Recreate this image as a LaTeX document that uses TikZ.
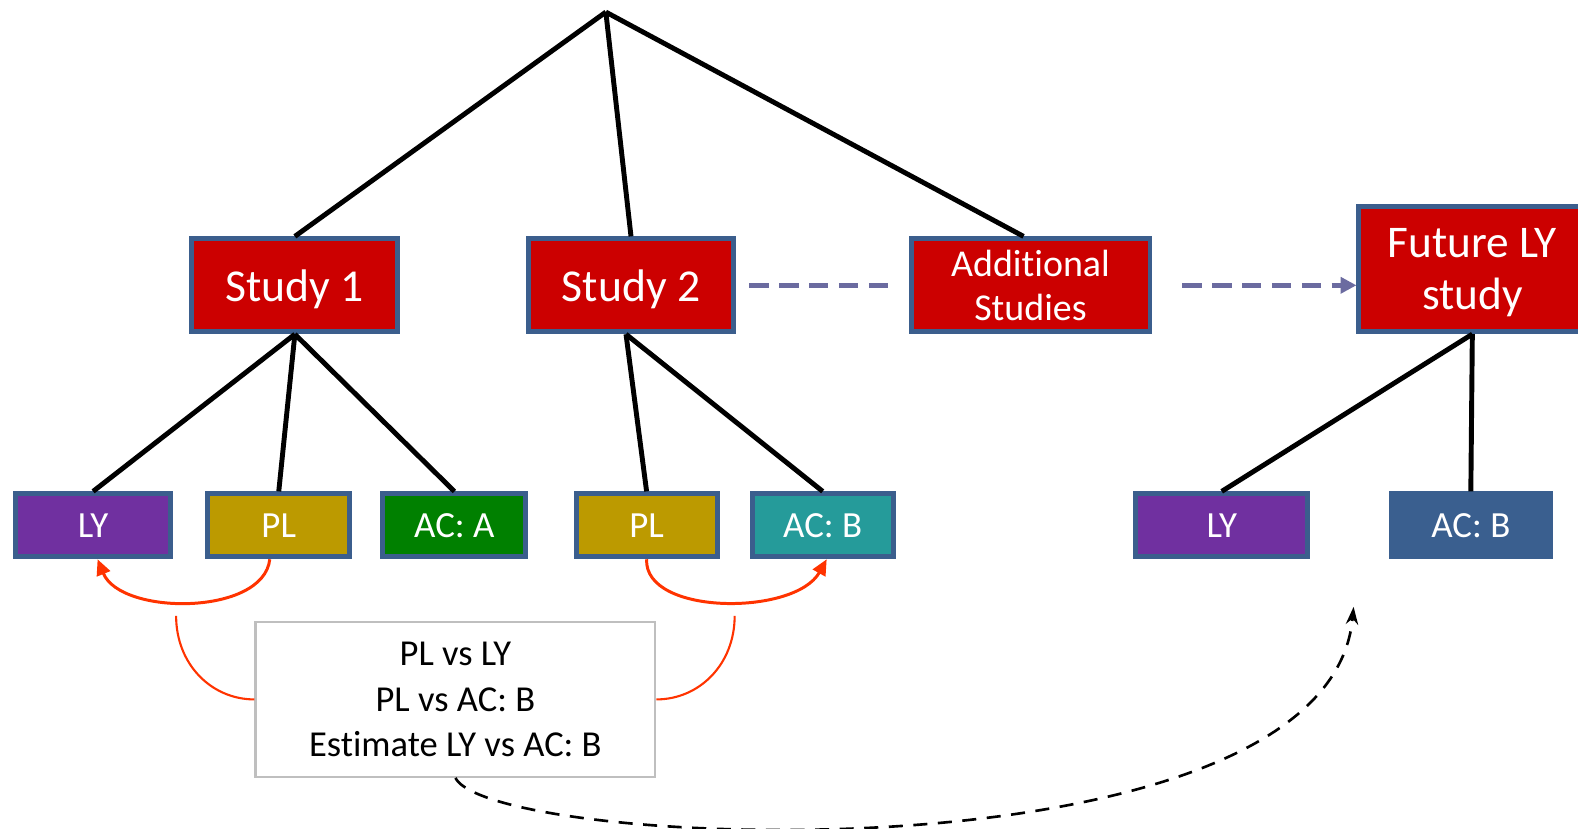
\documentclass[tikz,border=0pt]{standalone}
\usepackage{fontspec}
\setmainfont{Carlito}[Ligatures=NoCommon]
\usetikzlibrary{positioning,arrows.meta}
\definecolor{studyred}{HTML}{CC0000}
\definecolor{frameblue}{HTML}{3B5E8D}
\definecolor{lyviolet}{HTML}{7030A0}
\definecolor{plolive}{HTML}{BC9A00}
\definecolor{acgreen}{HTML}{008000}
\definecolor{acteal}{HTML}{259B9A}
\definecolor{acsteel}{HTML}{3A5F8F}
\definecolor{dashviolet}{HTML}{6B6BA0}
\definecolor{cmpred}{HTML}{FF3300}
\definecolor{notegray}{HTML}{BFBFBF}

\begin{document}
\begin{tikzpicture}[x=0.010064cm,y=-0.010064cm,
  box/.style={draw=frameblue,line width=1.4pt,inner sep=0pt,text=white,align=center},
  study/.style={box,fill=studyred,minimum width=2.06cm,minimum height=0.93cm,text depth=0pt,font=\fontsize{13}{15.6}\selectfont},
  arm/.style={box,minimum height=0.63cm,font=\fontsize{10.5}{12.5}\selectfont},
  link/.style={line width=1.4pt},
  chain/.style={draw=dashviolet,line width=1.4pt,dash pattern=on 5.5pt off 3pt},
  cmp/.style={draw=cmpred,line width=0.85pt},
  note/.style={draw=notegray,line width=0.6pt,inner sep=0pt,align=center,
    minimum width=4cm,minimum height=1.55cm,font=\fontsize{10.4}{12.9}\selectfont}]
\useasboundingbox (0,0) rectangle (1568,823);
\coordinate (top) at (602,12);
% studies
\node[study] (S1) at (293,283.5) {Study 1};
\node[study] (S2) at (627,283.5) {Study 2};
\node[study,minimum width=2.39cm,font=\fontsize{10.8}{12.6}\selectfont] (add) at (1024,283.5) {Additional\\Studies};
\node[study,minimum width=2.27cm,minimum height=1.25cm,font=\fontsize{12.9}{14.9}\selectfont] (fut) at (1463,267.5) {Future LY\\study};
% arms
\node[arm,fill=lyviolet,minimum width=1.55cm] (LY1) at (92.5,522) {LY};
\node[arm,fill=plolive,minimum width=1.42cm] (PL1) at (277,522) {PL};
\node[arm,fill=acgreen,minimum width=1.43cm] (ACA) at (451.5,522) {AC: A};
\node[arm,fill=plolive,minimum width=1.41cm] (PL2) at (642.5,522) {PL};
\node[arm,fill=acteal,minimum width=1.41cm] (ACB1) at (817.5,522) {AC: B};
\node[arm,fill=lyviolet,minimum width=1.72cm] (LY2) at (1214,522) {LY};
\node[arm,fill=acsteel,draw=acsteel,minimum width=1.59cm] (ACB2) at (1461.5,522) {AC: B};
% comparisons
\node[note] (cmpbox) at (452.5,695) {PL vs LY\\PL vs AC: B\\Estimate LY vs AC: B};
\coordinate (lcurl) at (175,612);
\coordinate (rcurl) at (730,612);
\coordinate (goal) at (1345,603);

\draw[link] (top) -- (S1.north);
\draw[link] (top) -- (S2.north);
\draw[link] (top) -- ([xshift=-0.07cm]add.north);
\draw[link] (S1.south) -- (LY1.north);
\draw[link] (S1.south) -- (PL1.north);
\draw[link] (S1.south) -- (ACA.north);
\draw[link] ([xshift=-0.05cm]S2.south) -- (PL2.north);
\draw[link] ([xshift=-0.05cm]S2.south) -- (ACB1.north);
\draw[link] (fut.south) -- (LY2.north);
\draw[link] (fut.south) -- (ACB2.north);

\draw[chain] ([xshift=0.13cm]S2.east) -- ([xshift=-0.13cm]add.west);
\draw[chain,-{Triangle[length=4.5pt,width=4.5pt]}] ([xshift=0.3cm]add.east) -- (add.east -| fut.west);

\draw[cmp,-{Triangle[length=4.5pt,width=4pt]}] ([xshift=-0.09cm]PL1.south) .. controls (262,612) and (120,612) .. ([xshift=0.045cm]LY1.south);
\draw[cmp,-{Triangle[length=4.5pt,width=4pt]}] (PL2.south) .. controls (640,612) and (790,612) .. ([xshift=0.04cm]ACB1.south);
\draw[cmp,line width=0.6pt] (lcurl) .. controls (175,660) and (210,695) .. (cmpbox.west);
\draw[cmp,line width=0.6pt] (cmpbox.east) .. controls (695,695) and (730,660) .. (rcurl);
\draw[line width=0.75pt,dash pattern=on 4pt off 3pt,-{Stealth[length=5pt,width=3.5pt]}]
  (cmpbox.south) .. controls (490,845) and (1320,880) .. (goal);
\end{tikzpicture}
\end{document}
